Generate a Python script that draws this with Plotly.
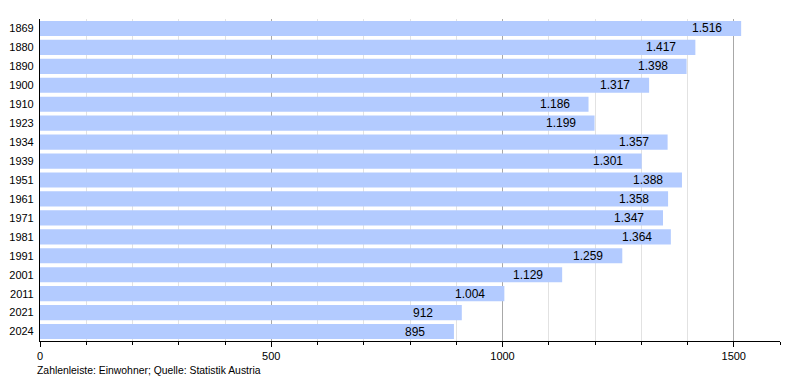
import plotly.graph_objects as go

years = ["1869", "1880", "1890", "1900", "1910", "1923", "1934", "1939", "1951",
         "1961", "1971", "1981", "1991", "2001", "2011", "2021", "2024"]
population = [1516, 1417, 1398, 1317, 1186, 1199, 1357, 1301, 1388,
              1358, 1347, 1364, 1259, 1129, 1004, 912, 895]
x_ticks = [0, 500, 1000, 1500]
footer = "Zahlenleiste: Einwohner; Quelle: Statistik Austria"

labels = [f"{v:,}".replace(",", ".") for v in population]

fig = go.Figure(go.Bar(
    x=population, y=years, orientation="h",
    marker=dict(color="#b3cbff", line=dict(width=0)),
    hoverinfo="skip",
))

# value labels start a fixed distance before the end of each bar
# (category axis: annotation y is the category index)
label_annotations = [
    dict(x=v, y=i, text=t, xref="x", yref="y", xanchor="left", yanchor="middle",
         xshift=-51, showarrow=False,
         font=dict(size=12, color="black", family="Liberation Sans, Arial, sans-serif"))
    for i, (v, t) in enumerate(zip(population, labels))
]

# page body has an 8px margin, so the figure is 8px smaller and offset
fig.update_layout(
    width=792, height=372,
    margin=dict(l=32, r=20, t=11, b=39, autoexpand=False),
    paper_bgcolor="white", plot_bgcolor="white",
    bargap=0.2,
    showlegend=False,
    font=dict(family="Liberation Sans, Arial, sans-serif", size=11, color="black"),
    xaxis=dict(
        range=[0, 1600], tickvals=x_ticks, ticktext=[str(t) for t in x_ticks],
        showline=True, linecolor="black", linewidth=1,
        ticks="outside", ticklen=5, tickcolor="black",
        showgrid=True, gridcolor="#a8a8a8", gridwidth=1,
        zeroline=False, automargin=False,
        minor=dict(dtick=100, tick0=0, showgrid=True, gridcolor="#e2e2e2",
                   ticks="outside", ticklen=3, tickcolor="black"),
        tickfont=dict(size=11),
    ),
    yaxis=dict(
        type="category", categoryorder="array", categoryarray=years,
        range=[len(years) - 0.5, -0.5],
        showline=True, linecolor="black", linewidth=1,
        ticks="", showgrid=False, tickfont=dict(size=11),
        ticksuffix=" ", automargin=False,
    ),
    annotations=label_annotations + [dict(
        text=footer, xref="paper", yref="paper", x=-0.007, y=-0.068,
        xanchor="left", yanchor="top", showarrow=False,
        font=dict(size=10.4, color="black"),
    )],
)

fig.write_html("out.html")
